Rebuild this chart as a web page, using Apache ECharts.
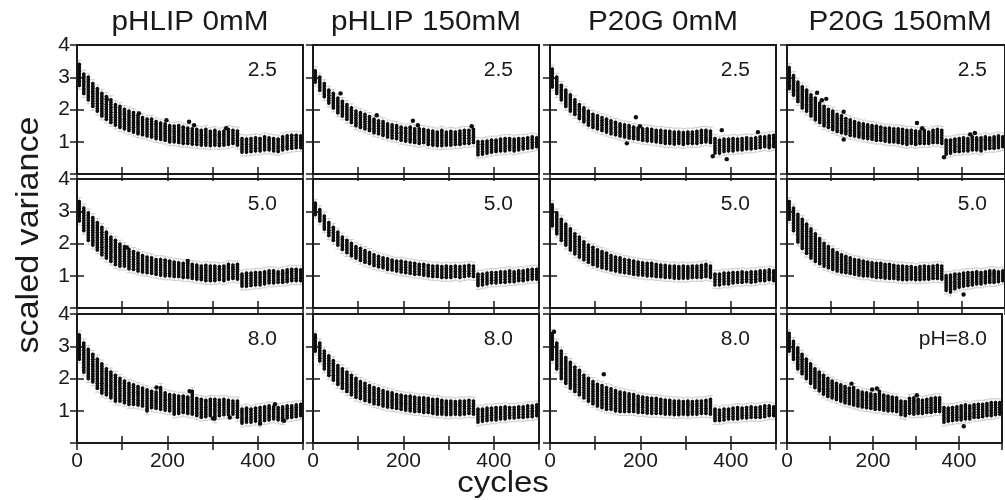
<!DOCTYPE html>
<html><head><meta charset="utf-8">
<script src="https://cdn.jsdelivr.net/npm/echarts@6/dist/echarts.min.js"></script>
<style>html,body{margin:0;padding:0;background:#fff}#c{width:1005px;height:500px}</style>
</head><body><div id="c"></div>
<script>
const titles = ['pHLIP 0mM','pHLIP 150mM','P20G 0mM','P20G 150mM'];
const phLabels = ['2.5','5.0','8.0'];
const lastLabel = 'pH=8.0';
const xTicks = [0,100,200,300,400,500];
const xTickLabels = ['0','','200','','400',''];
const yTickLabels = ['','1','2','3','4'];
const cycles = [5,15,25,35,45,55,65,75,85,95,105,115,125,135,145,155,165,175,185,195,205,215,225,235,245,255,265,275,285,295,305,315,325,335,345,355,365,375,385,395,405,415,425,435,445,455,465,475,485,495];

// row 1 (pH 2.5)
const hiA1=[3.4,3.1,3.0,2.8,2.65,2.5,2.4,2.3,2.15,2.1,2.0,1.95,1.9,1.82,1.75,1.7,1.7,1.62,1.58,1.55,1.5,1.48,1.5,1.45,1.42,1.4,1.38,1.35,1.38,1.32,1.35,1.3,1.33,1.38,1.35,1.33,1.1,1.08,1.1,1.12,1.1,1.15,1.12,1.1,1.08,1.15,1.18,1.2,1.2,1.18];
const loA1=[2.75,2.5,2.3,2.1,1.95,1.8,1.7,1.6,1.52,1.45,1.4,1.35,1.3,1.25,1.22,1.18,1.15,1.1,1.08,1.05,1.0,1.0,0.98,0.95,0.95,0.93,0.92,0.9,0.9,0.88,0.9,0.88,0.9,0.92,0.95,0.9,0.68,0.68,0.7,0.72,0.72,0.75,0.75,0.72,0.7,0.75,0.78,0.8,0.82,0.82];
const hiB1=[3.2,3.0,2.8,2.6,2.5,2.35,2.25,2.15,2.05,1.95,1.9,1.85,1.78,1.7,1.65,1.62,1.55,1.52,1.5,1.45,1.42,1.45,1.4,1.4,1.38,1.35,1.33,1.3,1.35,1.3,1.32,1.3,1.33,1.35,1.35,1.38,1.0,1.0,1.02,1.05,1.05,1.08,1.1,1.1,1.08,1.1,1.1,1.12,1.15,1.12];
const loB1=[2.85,2.6,2.4,2.2,2.05,1.9,1.8,1.7,1.6,1.5,1.45,1.4,1.35,1.28,1.25,1.2,1.15,1.12,1.1,1.05,1.02,1.0,0.98,0.95,0.98,0.92,0.9,0.88,0.88,0.9,0.9,0.92,0.92,0.95,0.95,0.98,0.6,0.62,0.65,0.68,0.7,0.72,0.72,0.75,0.72,0.75,0.78,0.8,0.82,0.85];
const hiC1=[3.25,3.0,2.75,2.6,2.45,2.3,2.15,2.05,1.95,1.85,1.8,1.75,1.7,1.65,1.6,1.55,1.52,1.5,1.45,1.42,1.4,1.4,1.38,1.35,1.35,1.33,1.32,1.3,1.3,1.28,1.3,1.3,1.32,1.35,1.35,1.33,1.1,1.05,1.08,1.08,1.1,1.08,1.1,1.12,1.1,1.12,1.15,1.15,1.18,1.2];
const loC1=[2.7,2.5,2.3,2.1,1.95,1.85,1.72,1.62,1.52,1.45,1.4,1.35,1.3,1.25,1.22,1.18,1.15,1.12,1.1,1.08,1.05,1.03,1.02,1.0,0.98,0.95,0.95,0.93,0.95,0.92,0.95,0.95,0.95,0.98,1.0,0.98,0.65,0.65,0.7,0.72,0.72,0.75,0.75,0.78,0.78,0.8,0.82,0.85,0.82,0.85];
const hiD1=[3.3,3.05,2.85,2.7,2.6,2.45,2.35,2.2,2.1,2.0,1.95,1.85,1.8,1.72,1.68,1.62,1.58,1.55,1.52,1.5,1.48,1.45,1.42,1.42,1.4,1.4,1.38,1.35,1.35,1.33,1.32,1.35,1.3,1.35,1.38,1.35,1.05,1.05,1.08,1.1,1.12,1.1,1.15,1.12,1.12,1.15,1.12,1.15,1.18,1.15];
const loD1=[2.65,2.45,2.25,2.05,1.95,1.8,1.68,1.6,1.5,1.45,1.38,1.32,1.28,1.25,1.2,1.18,1.15,1.12,1.1,1.08,1.05,1.05,1.02,1.0,1.0,0.98,0.95,0.92,0.95,0.92,0.95,0.95,0.95,0.98,0.98,0.95,0.62,0.65,0.7,0.7,0.72,0.72,0.75,0.75,0.72,0.78,0.8,0.8,0.82,0.85];
// row 2 (pH 5.0)
const hiA2=[3.3,3.1,2.95,2.8,2.65,2.5,2.35,2.2,2.1,1.98,1.9,1.82,1.75,1.7,1.62,1.58,1.55,1.5,1.5,1.48,1.45,1.42,1.4,1.38,1.38,1.35,1.33,1.3,1.32,1.3,1.3,1.28,1.3,1.35,1.33,1.35,1.05,1.08,1.08,1.1,1.1,1.12,1.15,1.15,1.12,1.15,1.18,1.2,1.2,1.18];
const loA2=[2.7,2.4,2.1,1.95,1.8,1.65,1.55,1.45,1.35,1.3,1.3,1.22,1.2,1.15,1.12,1.1,1.08,1.05,1.02,1.0,1.0,0.98,0.98,0.95,0.95,0.92,0.9,0.88,0.85,0.85,0.85,0.88,0.85,0.9,0.92,0.9,0.68,0.68,0.7,0.72,0.72,0.75,0.78,0.78,0.8,0.8,0.82,0.85,0.85,0.85];
const hiB2=[3.25,3.05,2.85,2.65,2.5,2.35,2.2,2.1,2.0,1.9,1.85,1.78,1.72,1.65,1.6,1.55,1.52,1.48,1.45,1.45,1.42,1.4,1.38,1.35,1.35,1.32,1.3,1.3,1.28,1.3,1.28,1.3,1.28,1.3,1.32,1.3,1.05,1.05,1.08,1.1,1.1,1.12,1.12,1.15,1.12,1.15,1.15,1.18,1.2,1.2];
const loB2=[2.9,2.7,2.45,2.25,2.1,1.95,1.82,1.72,1.62,1.55,1.48,1.42,1.38,1.32,1.28,1.25,1.2,1.18,1.15,1.12,1.1,1.08,1.05,1.05,1.02,1.0,0.98,0.98,0.95,0.95,0.95,0.98,0.95,0.98,1.0,0.98,0.7,0.72,0.75,0.78,0.78,0.8,0.8,0.82,0.82,0.85,0.85,0.88,0.9,0.9];
const hiC2=[3.2,2.95,2.75,2.6,2.45,2.3,2.2,2.05,1.95,1.88,1.8,1.75,1.7,1.62,1.58,1.55,1.5,1.48,1.45,1.42,1.4,1.38,1.38,1.35,1.33,1.32,1.3,1.3,1.28,1.3,1.28,1.3,1.3,1.32,1.35,1.3,1.05,1.05,1.08,1.08,1.1,1.1,1.12,1.1,1.12,1.12,1.15,1.15,1.18,1.15];
const loC2=[2.55,2.3,2.1,1.95,1.8,1.68,1.58,1.5,1.42,1.35,1.3,1.25,1.22,1.18,1.15,1.12,1.1,1.08,1.05,1.03,1.02,1.0,1.0,0.98,0.97,0.95,0.95,0.93,0.92,0.93,0.93,0.95,0.95,0.95,0.98,0.95,0.72,0.72,0.75,0.75,0.78,0.8,0.8,0.82,0.8,0.82,0.85,0.85,0.88,0.85];
const hiD2=[3.3,3.1,2.9,2.75,2.6,2.45,2.3,2.15,2.0,1.9,1.8,1.72,1.65,1.6,1.55,1.5,1.48,1.45,1.42,1.4,1.38,1.38,1.35,1.35,1.32,1.3,1.3,1.28,1.28,1.25,1.28,1.3,1.28,1.3,1.32,1.3,1.0,1.02,1.05,1.05,1.08,1.1,1.1,1.12,1.1,1.12,1.15,1.15,1.12,1.15];
const loD2=[2.75,2.4,2.05,1.85,1.7,1.55,1.45,1.38,1.3,1.25,1.2,1.15,1.12,1.1,1.08,1.05,1.02,1.0,1.0,0.98,0.95,0.95,0.93,0.92,0.92,0.9,0.88,0.88,0.9,0.88,0.88,0.9,0.9,0.92,0.92,0.9,0.55,0.5,0.6,0.65,0.68,0.7,0.72,0.75,0.75,0.78,0.8,0.8,0.82,0.85];
// row 3 (pH 8.0)
const hiA3=[3.35,3.1,2.9,2.75,2.6,2.45,2.3,2.2,2.1,2.0,1.92,1.85,1.8,1.75,1.7,1.65,1.6,1.58,1.72,1.55,1.5,1.48,1.45,1.45,1.42,1.6,1.38,1.35,1.32,1.35,1.35,1.33,1.35,1.32,1.3,1.3,1.05,1.08,1.05,1.08,1.1,1.12,1.15,1.12,1.1,1.12,1.15,1.15,1.18,1.2];
const loA3=[2.6,2.2,2.0,1.9,1.7,1.55,1.5,1.4,1.3,1.3,1.25,1.2,1.2,1.18,1.15,1.0,1.1,1.08,1.05,1.02,1.0,0.9,0.92,0.95,0.92,0.9,0.85,0.8,0.82,0.85,0.75,0.85,0.88,0.88,0.9,0.8,0.62,0.65,0.65,0.68,0.62,0.7,0.72,0.75,0.72,0.7,0.78,0.8,0.82,0.85];
const hiB3=[3.35,3.1,2.85,2.7,2.55,2.4,2.3,2.2,2.1,2.0,1.9,1.85,1.78,1.72,1.68,1.62,1.58,1.55,1.5,1.48,1.45,1.45,1.42,1.4,1.4,1.38,1.35,1.35,1.32,1.3,1.3,1.28,1.3,1.3,1.32,1.3,1.05,1.05,1.08,1.08,1.1,1.1,1.12,1.1,1.1,1.12,1.12,1.15,1.15,1.18];
const loB3=[2.85,2.55,2.3,2.1,1.95,1.82,1.7,1.6,1.5,1.42,1.38,1.32,1.28,1.22,1.2,1.15,1.12,1.1,1.08,1.05,1.02,1.0,0.98,0.98,0.95,0.95,0.92,0.9,0.9,0.88,0.88,0.9,0.88,0.9,0.92,0.9,0.65,0.68,0.7,0.72,0.72,0.75,0.75,0.78,0.78,0.8,0.8,0.82,0.82,0.85];
const hiC3=[3.4,3.1,2.85,2.65,2.5,2.35,2.25,2.1,2.0,1.9,1.82,1.78,1.72,1.68,1.62,1.58,1.55,1.52,1.5,1.45,1.42,1.4,1.38,1.38,1.35,1.33,1.32,1.3,1.3,1.28,1.3,1.28,1.3,1.3,1.32,1.35,1.05,1.02,1.05,1.05,1.08,1.1,1.08,1.1,1.12,1.1,1.12,1.15,1.15,1.12];
const loC3=[2.6,2.3,2.0,1.85,1.7,1.6,1.5,1.4,1.3,1.22,1.15,1.1,1.05,1.05,1.0,0.98,0.98,0.98,0.98,0.95,0.95,0.93,0.92,0.92,0.92,0.9,0.9,0.88,0.88,0.9,0.88,0.9,0.9,0.92,0.92,0.9,0.7,0.7,0.72,0.75,0.75,0.75,0.78,0.78,0.8,0.8,0.8,0.82,0.85,0.85];
const hiD3=[3.4,3.15,2.95,2.75,2.6,2.45,2.3,2.2,2.1,2.0,1.92,1.85,1.8,1.75,1.7,1.72,1.62,1.58,1.55,1.52,1.5,1.6,1.48,1.45,1.42,1.4,1.3,1.28,1.38,1.4,1.35,1.32,1.35,1.38,1.4,1.4,1.1,1.08,1.1,1.12,1.15,1.18,1.15,1.18,1.2,1.2,1.22,1.25,1.25,1.25];
const loD3=[2.85,2.6,2.3,2.15,2.0,1.85,1.72,1.62,1.52,1.45,1.4,1.35,1.3,1.25,1.22,1.18,1.15,1.12,1.1,1.08,1.05,1.05,1.02,1.0,1.0,0.98,0.88,0.85,0.92,0.9,0.92,0.92,0.95,0.95,0.98,0.98,0.65,0.68,0.7,0.72,0.72,0.75,0.75,0.8,0.8,0.82,0.85,0.85,0.88,0.9];

// isolated points (cycle, value)
const outA1=[[66,2.32],[137,1.88],[198,1.67],[248,1.62],[259,1.51],[330,1.42]];
const outB1=[[61,2.5],[141,1.82],[221,1.65],[232,1.51],[351,1.48]];
const outC1=[[170,0.95],[190,1.76],[199,1.48],[360,0.55],[380,1.36],[391,0.46],[460,1.3]];
const outD1=[[69,2.52],[80,2.29],[90,2.33],[130,1.93],[130,1.07],[298,1.58],[310,1.42],[360,0.52],[420,1.23],[431,1.27]];
const outA2=[[110,1.88],[245,1.46]];
const outB2=[];
const outC2=[];
const outD2=[[405,0.42]];
const outA3=[[176,1.72],[249,1.61],[301,0.76],[338,0.79],[405,0.6],[438,1.2],[458,0.69]];
const outB3=[];
const outC3=[[9,3.45],[119,2.13]];
const outD3=[[150,1.84],[198,1.66],[209,1.69],[302,1.48],[411,0.52]];

const panelData = [
  [[loA1,hiA1,outA1],[loB1,hiB1,outB1],[loC1,hiC1,outC1],[loD1,hiD1,outD1]],
  [[loA2,hiA2,outA2],[loB2,hiB2,outB2],[loC2,hiC2,outC2],[loD2,hiD2,outD2]],
  [[loA3,hiA3,outA3],[loB3,hiB3,outB3],[loC3,hiC3,outC3],[loD3,hiD3,outD3]]
];

const lefts = [77, 313, 550, 787];
const tops = [45, 179, 314];
const W = 226, H = 129;
const FONT = '"Liberation Sans", Arial, sans-serif';
const ink = '#1a1a1a';
const errCol = '#c4c4c4';

const grid = [], xAxis = [], yAxis = [], series = [], graphic = [];
let gi = 0;
for (let r = 0; r < 3; r++) {
  for (let c = 0; c < 4; c++) {
    grid.push({left: lefts[c], top: tops[r], width: W, height: H, show: true, borderColor: ink, borderWidth: 2, backgroundColor: 'transparent', z: 5});
    const baseX = {gridIndex: gi, type: 'value', min: 0, max: 500, interval: 100,
      axisLine: {show: false}, splitLine: {show: false},
      axisTick: {show: true, inside: true, length: 7, lineStyle: {color: ink, width: 1.5}}};
    xAxis.push(Object.assign({}, baseX, {position: 'bottom',
      axisLabel: {show: r === 2, margin: 8, fontSize: 21, fontFamily: FONT, color: ink,
        formatter: v => xTickLabels[xTicks.indexOf(v)] || '' }}));
    xAxis.push(Object.assign({}, baseX, {position: 'top', axisLabel: {show: false}}));
    const baseY = {gridIndex: gi, type: 'value', min: 0, max: 4, interval: 1,
      axisLine: {show: false}, splitLine: {show: false},
      axisTick: {show: true, inside: true, length: 7, lineStyle: {color: ink, width: 1.5}}};
    yAxis.push(Object.assign({}, baseY, {position: 'left',
      axisLabel: {show: c === 0, margin: 7, fontSize: 21, fontFamily: FONT, color: ink,
        formatter: v => yTickLabels[v] || ''}}));
    yAxis.push(Object.assign({}, baseY, {position: 'right', axisLabel: {show: false}}));
    const [lo, hi, out] = panelData[r][c];
    const data = cycles.map((x, i) => [x, lo[i], hi[i]]);
    series.push({
      type: 'custom', xAxisIndex: 2*gi, yAxisIndex: 2*gi, data: data, clip: true,
      renderItem: function (params, api) {
        const x = api.value(0);
        const pLo = api.coord([x, api.value(1)]);
        const pHi = api.coord([x, api.value(2)]);
        const children = [];
        const y1 = pHi[1] - 4, y2 = pLo[1] + 4, px = pLo[0];
        children.push({type: 'line', shape: {x1: px, y1: y1, x2: px, y2: y2}, style: {stroke: errCol, lineWidth: 0.8}});
        children.push({type: 'line', shape: {x1: px-2.5, y1: y1, x2: px+2.5, y2: y1}, style: {stroke: errCol, lineWidth: 0.8}});
        children.push({type: 'line', shape: {x1: px-2.5, y1: y2, x2: px+2.5, y2: y2}, style: {stroke: errCol, lineWidth: 0.8}});
        const n = Math.max(1, Math.round((pLo[1] - pHi[1]) / 2.4));
        for (let k = 0; k <= n; k++) {
          const yy = pHi[1] + (pLo[1] - pHi[1]) * k / n;
          children.push({type: 'circle', shape: {cx: px, cy: yy, r: 1.9}, style: {fill: '#0d0d0d'}});
        }
        return {type: 'group', children: children};
      }
    });
    series.push({
      type: 'scatter', xAxisIndex: 2*gi, yAxisIndex: 2*gi, data: out, symbolSize: 4.4,
      itemStyle: {color: '#0d0d0d', opacity: 1}, silent: true
    });
    const label = (r === 2 && c === 3) ? lastLabel : phLabels[r];
    graphic.push({type: 'text', x: lefts[c] + W - 26, y: tops[r] + 25, scaleX: 1.05,
      style: {text: label, font: '20px ' + FONT, fill: ink, textAlign: 'right', textVerticalAlign: 'middle'}});
    gi++;
  }
}
for (let c = 0; c < 4; c++) {
  graphic.push({type: 'text', x: lefts[c] + W/2, y: 23, scaleX: 1.1,
    style: {text: titles[c], font: '27px ' + FONT, fill: ink, textAlign: 'center', textVerticalAlign: 'middle'}});
}
graphic.push({type: 'text', rotation: Math.PI/2, x: 29, y: 235, scaleX: 1.1, style: {text: 'scaled variance', font: '31px ' + FONT, fill: ink, textAlign: 'center', textVerticalAlign: 'middle'}});
graphic.push({type: 'text', x: 503, y: 484, scaleX: 1.1, style: {text: 'cycles', font: '30px ' + FONT, fill: ink, textAlign: 'center', textVerticalAlign: 'middle'}});

const chart = echarts.init(document.getElementById('c'), null, {renderer: 'canvas'});
chart.setOption({animation: false, backgroundColor: '#fff', grid, xAxis, yAxis, series, graphic});
</script></body></html>
